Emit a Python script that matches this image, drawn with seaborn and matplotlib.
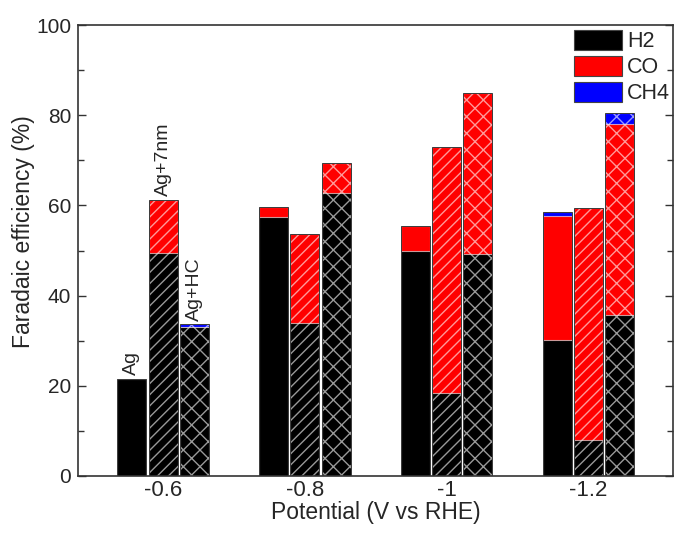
import numpy as np
import pandas as pd
import matplotlib.pyplot as plt
import seaborn as sns
from matplotlib.patches import Patch
from matplotlib.ticker import MultipleLocator

# categories
potentials = ["-0.6", "-0.8", "-1", "-1.2"]
samples = ["Ag", "Ag+7nm", "Ag+HC"]

# faradaic efficiency (%), one row per sample, one value per potential
h2 = [[21.5, 57.4, 50.0, 30.2],
      [49.4, 33.9, 18.4, 8.0],
      [33.0, 62.8, 49.3, 35.8]]
co = [[0.0, 2.2, 5.5, 27.5],
      [11.8, 19.8, 54.5, 51.4],
      [0.0, 6.7, 35.6, 42.2]]
ch4 = [[0.0, 0.0, 0.0, 0.8],
       [0.0, 0.0, 0.0, 0.0],
       [0.6, 0.0, 0.0, 2.5]]

gases = ["H2", "CO", "CH4"]
gas_colors = ["#000000", "#ff0000", "#0000ff"]
hatches = ["", "///", "xx"]

# Build long table with stacked (cumulative) heights
rows = []
for i, s in enumerate(samples):
    for j, p in enumerate(potentials):
        rows.append({"potential": p, "sample": s,
                     "H2": h2[i][j],
                     "CO": h2[i][j] + co[i][j],
                     "CH4": h2[i][j] + co[i][j] + ch4[i][j]})
df = pd.DataFrame(rows)

sns.set_style("ticks")
plt.rcParams["font.family"] = ["Liberation Sans", "DejaVu Sans"]
plt.rcParams["hatch.linewidth"] = 1.0

fig = plt.figure(figsize=(6.75, 5.33), dpi=100)
ax = fig.add_axes([0.1156, 0.107, 0.882, 0.846])

# draw from the top of the stack down so lower layers overlay
for gas, color in reversed(list(zip(gases, gas_colors))):
    sns.barplot(data=df, x="potential", y=gas, hue="sample",
                order=potentials, hue_order=samples,
                palette={s: color for s in samples}, saturation=1,
                width=0.66, gap=0.07, errorbar=None, legend=False,
                linewidth=0, ax=ax)

# hatch per sample (containers are added per hue level)
for k, cont in enumerate(ax.containers):
    h = hatches[k % len(samples)]
    for bar in cont:
        bar.set_hatch(h)
        bar.set_edgecolor((1, 1, 1, 0.6))
        bar.set_linewidth(0.8)

# outline each full stack
for cont in ax.containers[:len(samples)]:
    for bar in cont:
        ax.add_patch(plt.Rectangle(bar.get_xy(), bar.get_width(), bar.get_height(),
                                   fill=False, edgecolor="#3a3a3a", linewidth=0.7,
                                   zorder=bar.get_zorder() + 2))

# sample labels above the -0.6 group
for i, s in enumerate(samples):
    bar = ax.containers[i][0]
    x = bar.get_x() + bar.get_width() / 2
    top = h2[i][0] + co[i][0] + ch4[i][0]
    ax.text(x, top + 0.8, s, rotation=90, ha="center", va="bottom", fontsize=14)

ax.set_xlim(-0.6, 3.6)
ax.set_ylim(0, 100)
ax.yaxis.set_major_locator(MultipleLocator(20))
ax.yaxis.set_minor_locator(MultipleLocator(10))
ax.tick_params(axis="y", which="both", direction="in", left=True, right=True,
               labelsize=15, pad=5, color="#333333")
ax.tick_params(axis="y", which="major", length=6, width=1)
ax.tick_params(axis="y", which="minor", length=4, width=1)
ax.tick_params(axis="x", length=0, labelsize=16, pad=3)
for sp in ax.spines.values():
    sp.set_color("#333333")
    sp.set_linewidth(1.2)

ax.set_xlabel("Potential (V vs RHE)", fontsize=16.5, labelpad=0)
ax.set_ylabel("Faradaic efficiency (%)", fontsize=16.5)
ax.yaxis.set_label_coords(-0.072, 0.541)

handles = [Patch(facecolor=c, edgecolor="#444444", linewidth=0.8) for c in gas_colors]
fig.legend(handles, gases, loc="upper right", bbox_to_anchor=(670 / 675, 1 - 30 / 533),
           frameon=False, fontsize=15.5, handlelength=2.2, handleheight=1.05,
           handletextpad=0.25, labelspacing=0.16, borderpad=0, borderaxespad=0)

fig.savefig("out.png", dpi=100)
